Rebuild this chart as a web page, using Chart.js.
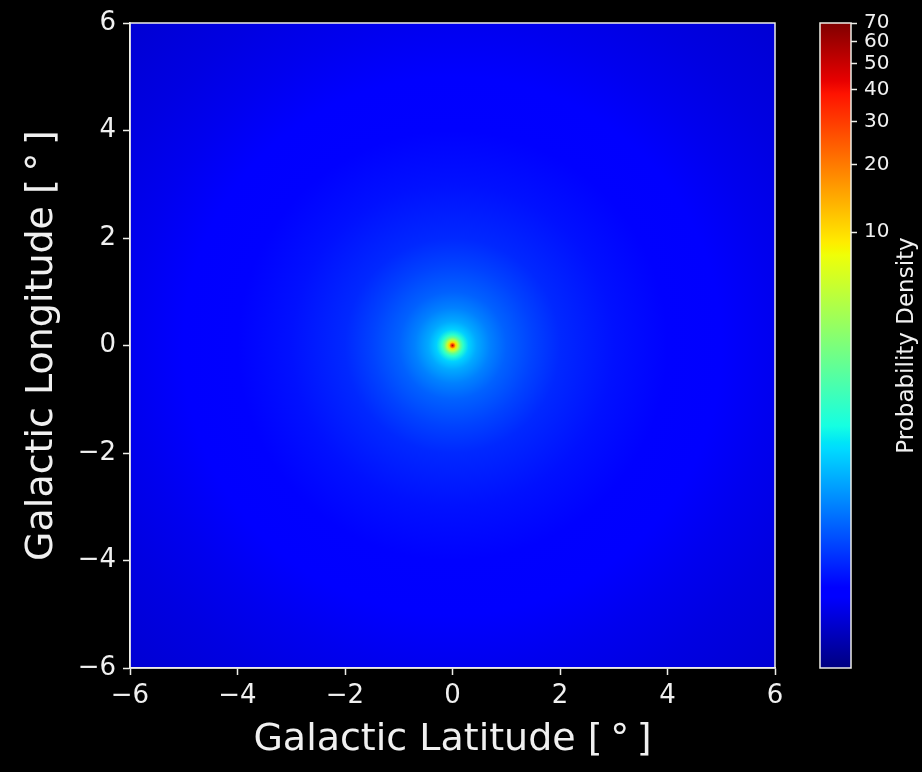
<!DOCTYPE html>
<html>
<head>
<meta charset="utf-8">
<script src="https://cdn.jsdelivr.net/npm/chart.js@4.4.1/dist/chart.umd.min.js"></script>
<style>
  html, body { margin: 0; background: #000; }
  #wrap { position: relative; width: 922px; height: 772px; background: #000; }
  #main { position: absolute; left: 0; top: 0; }
  #cbar { position: absolute; left: 800px; top: 0; }
</style>
</head>
<body>
<div id="wrap">
  <canvas id="main" width="922" height="772"></canvas>
  <canvas id="cbar" width="122" height="772"></canvas>
</div>
<script>
// radial density profile (radius in degrees from the centre)
const radii = [0, 0.03, 0.06, 0.1, 0.15, 0.2, 0.3, 0.45, 0.7, 1.0, 1.5, 2.0, 3.0, 4.0, 5.0, 6.0, 7.0, 8.5];
const density = [54, 26, 10.3, 5.0, 2.0, 1.03, 0.5, 0.32, 0.2, 0.133, 0.088, 0.061, 0.042, 0.033, 0.0255, 0.02, 0.0164, 0.0128];

const axisTicks = [-6, -4, -2, 0, 2, 4, 6];
const cbTicks = [10, 20, 30, 40, 50, 60, 70];

// colour normalisation (power law)
const vmin = 0.0028;
const vmax = 70;
const gamma = 0.15;

const textColor = "#f0f0f0";
const lineColor = "#eeeee8";
Chart.defaults.font.family = "'DejaVu Sans', sans-serif";
Chart.defaults.color = textColor;

// matplotlib "jet"
const JET = {
  r: [[0, 0], [0.35, 0], [0.66, 1], [0.89, 1], [1, 0.5]],
  g: [[0, 0], [0.125, 0], [0.375, 1], [0.64, 1], [0.91, 0], [1, 0]],
  b: [[0, 0.5], [0.11, 1], [0.34, 1], [0.65, 0], [1, 0]],
};

function seg(pts, f) {
  for (let i = 1; i < pts.length; i++) {
    if (f <= pts[i][0]) {
      const [x0, y0] = pts[i - 1];
      const [x1, y1] = pts[i];
      return y0 + ((f - x0) / (x1 - x0)) * (y1 - y0);
    }
  }
  return pts[pts.length - 1][1];
}

function jet(f) {
  f = Math.min(1, Math.max(0, f));
  const c = (k) => Math.round(seg(JET[k], f) * 255);
  return `rgb(${c("r")}, ${c("g")}, ${c("b")})`;
}

const tr = (v) => Math.pow(v, gamma);
const inv = (t) => Math.pow(t, 1 / gamma);
const norm = (v) => (tr(v) - tr(vmin)) / (tr(vmax) - tr(vmin));

const fmt = (v) => (v < 0 ? "\u2212" + Math.abs(v) : String(v));

const densityPlugin = {
  id: "density",
  beforeDraw(chart) {
    const { ctx, chartArea: a, scales } = chart;
    const pts = chart.data.datasets[0].data;
    const cx = scales.x.getPixelForValue(0);
    const cy = scales.y.getPixelForValue(0);
    const rMax = pts[pts.length - 1].x;
    const R = scales.x.getPixelForValue(rMax) - cx;
    const grad = ctx.createRadialGradient(cx, cy, 0, cx, cy, R);
    pts.forEach((p) => grad.addColorStop(p.x / rMax, jet(norm(p.v))));
    ctx.save();
    ctx.fillStyle = grad;
    ctx.fillRect(a.left, a.top, a.width, a.height);
    ctx.restore();
  },
};

const framePlugin = {
  id: "frame",
  afterDraw(chart) {
    const { ctx, chartArea: a } = chart;
    ctx.save();
    ctx.strokeStyle = lineColor;
    ctx.lineWidth = 1.5;
    ctx.strokeRect(a.left, a.top, a.width, a.height);
    ctx.restore();
  },
};

new Chart(document.getElementById("main"), {
  type: "scatter",
  data: {
    datasets: [
      {
        data: radii.map((r, i) => ({ x: r, y: 0, v: density[i] })),
        pointRadius: 0,
        pointHoverRadius: 0,
      },
    ],
  },
  options: {
    responsive: false,
    animation: false,
    events: [],
    layout: { padding: { top: 23, right: 147, left: 0, bottom: 0 } },
    plugins: { legend: { display: false }, tooltip: { enabled: false } },
    scales: {
      x: {
        type: "linear",
        min: -6,
        max: 6,
        afterBuildTicks: (s) => { s.ticks = axisTicks.map((v) => ({ value: v })); },
        afterFit: (s) => { s.height = 104; },
        ticks: { color: textColor, font: { size: 26 }, padding: 6, maxRotation: 0, callback: fmt },
        grid: { drawOnChartArea: false, tickLength: 7, tickColor: lineColor, tickWidth: 1.5 },
        border: { color: lineColor, width: 1.5 },
        title: {
          display: true,
          text: "Galactic Latitude [\u2009\u00b0\u2009]",
          color: textColor,
          font: { size: 38 },
          padding: { top: 0, bottom: 9 },
        },
      },
      y: {
        type: "linear",
        min: -6,
        max: 6,
        afterBuildTicks: (s) => { s.ticks = axisTicks.map((v) => ({ value: v })); },
        afterFit: (s) => { s.width = 130; },
        ticks: { color: textColor, font: { size: 26 }, padding: 7, callback: fmt },
        grid: { drawOnChartArea: false, tickLength: 7, tickColor: lineColor, tickWidth: 1.5 },
        border: { color: lineColor, width: 1.5 },
        title: {
          display: true,
          text: "Galactic Longitude [\u2009\u00b0\u2009]",
          color: textColor,
          font: { size: 38 },
          padding: { top: 19, bottom: 0 },
        },
      },
    },
  },
  plugins: [densityPlugin, framePlugin],
});

const colorbarPlugin = {
  id: "colorbar",
  beforeDraw(chart) {
    const { ctx, chartArea: a, scales } = chart;
    const y0 = scales.y.getPixelForValue(scales.y.min);
    const y1 = scales.y.getPixelForValue(scales.y.max);
    const grad = ctx.createLinearGradient(0, y0, 0, y1);
    const stops = new Set();
    Object.values(JET).forEach((arr) => arr.forEach(([f]) => stops.add(f)));
    [...stops].sort((p, q) => p - q).forEach((f) => grad.addColorStop(f, jet(f)));
    ctx.save();
    ctx.fillStyle = grad;
    ctx.fillRect(a.left, a.top, a.width, a.height);
    ctx.restore();
  },
  afterDraw(chart) {
    const { ctx, chartArea: a } = chart;
    ctx.save();
    ctx.strokeStyle = lineColor;
    ctx.lineWidth = 1.5;
    ctx.strokeRect(a.left, a.top, a.width, a.height);
    ctx.translate(107, (a.top + a.bottom) / 2);
    ctx.rotate(-Math.PI / 2);
    ctx.fillStyle = textColor;
    ctx.font = "23px 'DejaVu Sans', sans-serif";
    ctx.textAlign = "center";
    ctx.textBaseline = "middle";
    ctx.fillText("Probability Density", 0, 0);
    ctx.restore();
  },
};

new Chart(document.getElementById("cbar"), {
  type: "scatter",
  data: { datasets: [] },
  options: {
    responsive: false,
    animation: false,
    events: [],
    layout: { padding: { left: 20, top: 23, bottom: 104, right: 0 } },
    plugins: { legend: { display: false }, tooltip: { enabled: false } },
    scales: {
      x: { display: false, min: 0, max: 1 },
      y: {
        position: "right",
        type: "linear",
        min: tr(vmin),
        max: tr(vmax),
        afterBuildTicks: (s) => { s.ticks = cbTicks.map((v) => ({ value: tr(v) })); },
        afterFit: (s) => { s.width = 71; },
        ticks: { color: textColor, font: { size: 20 }, padding: 7, callback: (v) => Math.round(inv(v)) },
        grid: { drawOnChartArea: false, tickLength: 6, tickColor: lineColor, tickWidth: 1.5 },
        border: { display: false },
      },
    },
  },
  plugins: [colorbarPlugin],
});
</script>
</body>
</html>
